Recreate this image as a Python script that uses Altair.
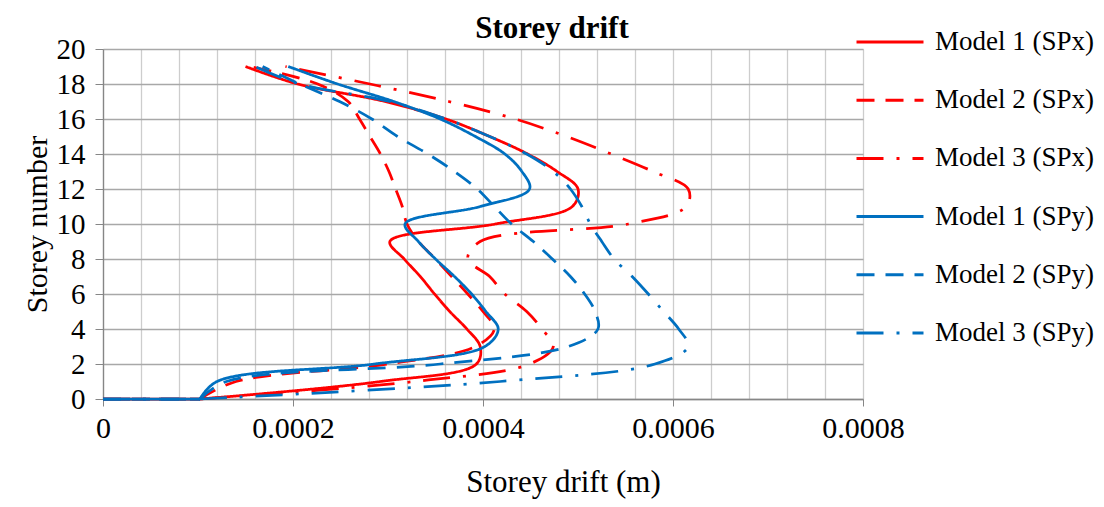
import altair as alt
import pandas as pd

# storey levels (first point is the origin)
storeys = [0, 0, 1, 2, 3, 4, 5, 6, 7, 8, 9, 10, 11, 12, 13, 14, 15, 16, 17, 18, 19]

series_names = ["Model 1 (SPx)", "Model 2 (SPx)", "Model 3 (SPx)",
                "Model 1 (SPy)", "Model 2 (SPy)", "Model 3 (SPy)"]

m1_spx = [0, 0.000102, 0.000292, 0.000393, 0.000397, 0.000383, 0.000365, 0.000349,
          0.000334, 0.000317, 0.000302, 0.000413, 0.000494, 0.000500, 0.000478,
          0.000447, 0.000407, 0.000361, 0.000297, 0.000205, 0.000150]
m2_spx = [0, 0.000102, 0.000140, 0.000300, 0.000392, 0.000412, 0.000400, 0.000384,
          0.000367, 0.000350, 0.000332, 0.000320, 0.000315, 0.000308, 0.000301,
          0.000292, 0.000281, 0.000270, 0.000258, 0.000226, 0.000155]
m3_spx = [0, 0.000102, 0.000328, 0.000449, 0.000474, 0.000462, 0.000446, 0.000423,
          0.000407, 0.000384, 0.000397, 0.000553, 0.000614, 0.000616, 0.000579,
          0.000535, 0.000488, 0.000434, 0.000364, 0.000281, 0.000192]
m1_spy = [0, 0.000102, 0.000120, 0.000286, 0.000402, 0.000416, 0.000403, 0.000388,
          0.000370, 0.000350, 0.000332, 0.000318, 0.000397, 0.000449, 0.000441,
          0.000423, 0.000392, 0.000355, 0.000306, 0.000247, 0.000195]
m2_spy = [0, 0.000102, 0.000130, 0.000355, 0.000490, 0.000521, 0.000518, 0.000507,
          0.000492, 0.000473, 0.000453, 0.000430, 0.000412, 0.000394, 0.000370,
          0.000342, 0.000310, 0.000283, 0.000249, 0.000207, 0.000168]
m3_spy = [0, 0.000102, 0.000418, 0.000581, 0.000616, 0.000606, 0.000590, 0.000574,
          0.000557, 0.000538, 0.000525, 0.000513, 0.000504, 0.000492, 0.000474,
          0.000446, 0.000407, 0.000361, 0.000302, 0.000207, 0.000160]

x_ticks = [round(i * 0.00004, 5) for i in range(21)]
y_ticks = list(range(0, 21, 2))

colors = ["#FF0000", "#FF0000", "#FF0000", "#0070C0", "#0070C0", "#0070C0"]
dashes = [[1, 0], [18, 11], [27, 13, 3, 13], [1, 0], [18, 11], [27, 13, 3, 13]]

rows = []
for name, vals in zip(series_names, [m1_spx, m2_spx, m3_spx, m1_spy, m2_spy, m3_spy]):
    for i, (s, v) in enumerate(zip(storeys, vals)):
        rows.append({"series": name, "storey": s, "drift": v, "idx": i})
df = pd.DataFrame(rows)

FONT = "Liberation Serif"
major = "round(datum.value*25000) % 5 == 0"

x_axis = alt.Axis(
    values=x_ticks,
    labelExpr=f"({major}) ? (datum.value == 0 ? '0' : format(datum.value, '.4f')) : ''",
    title="Storey drift (m)",
    titleFont=FONT, titleFontSize=31, titleFontWeight="normal", titleColor="black",
    titleX=460, titleY=92, titleBaseline="alphabetic", titleAnchor="middle",
    labelFont=FONT, labelFontSize=30, labelColor="black", labelPadding=7,
    labelFlush=False, labelOverlap=False,
    tickSize=7, tickColor="#868686",
    tickOpacity={"condition": {"test": major, "value": 1}, "value": 0},
    grid=True, gridColor="#cdcdcd", gridWidth=1.3,
    domainColor="#868686", domainWidth=1.3,
)
y_axis = alt.Axis(
    values=y_ticks,
    title="Storey number",
    titleFont=FONT, titleFontSize=30, titleFontWeight="normal", titleColor="black",
    titlePadding=4,
    labelFont=FONT, labelFontSize=29, labelColor="black", labelPadding=10,
    tickSize=8, tickColor="#868686",
    grid=True, gridColor="#a8a8a8", gridWidth=1.3,
    domainColor="#868686", domainWidth=1.3,
)

legend = alt.Legend(
    title=None, orient="none", legendX=752, legendY=-42, direction="vertical",
    symbolType="stroke", symbolSize=4489, symbolStrokeWidth=3,
    labelFont=FONT, labelFontSize=27, labelColor="black", labelOffset=10,
    labelLimit=400, rowPadding=10.2, padding=0,
)

enc = dict(
    x=alt.X("drift:Q", scale=alt.Scale(domain=[0, 0.0008], nice=False), axis=x_axis),
    y=alt.Y("storey:Q", scale=alt.Scale(domain=[0, 20], nice=False), axis=y_axis),
    color=alt.Color("series:N", scale=alt.Scale(domain=series_names, range=colors),
                    legend=legend, sort=series_names),
    strokeDash=alt.StrokeDash("series:N", scale=alt.Scale(domain=series_names, range=dashes),
                              legend=legend, sort=series_names),
    order=alt.Order("idx:Q"),
)

curve = alt.Chart(df).mark_line(interpolate="catmull-rom", strokeWidth=2.75).encode(**enc)
basepart = alt.Chart(df).mark_line(strokeWidth=2.75).encode(**enc)


def pick(chart, names, first_segment):
    c = chart.transform_filter(alt.FieldOneOfPredicate(field="series", oneOf=names))
    if first_segment:
        return c.transform_filter(alt.datum.idx <= 1)
    return c.transform_filter(alt.datum.idx >= 1)


# light outer frame of the chart area (decoration, not data)
frame = alt.Chart(pd.DataFrame({"f": [0]})).mark_rect(
    fill="transparent", stroke="#d4d4d4", strokeWidth=1.2
).encode(x=alt.value(-102), x2=alt.value(999), y=alt.value(-48), y2=alt.value(456))

layers = [
    frame,
    pick(basepart, series_names[:3], True),
    pick(curve, series_names[:3], False),
    pick(basepart, series_names[3:], True),
    pick(curve, series_names[3:], False),
]

chart = alt.layer(*layers).properties(
    width=760, height=350,
    autosize=alt.AutoSizeParams(type="none"),
    padding={"left": 95, "top": 41, "right": 233, "bottom": 100},
    title=alt.TitleParams("Storey drift", font=FONT, fontSize=31, fontWeight="bold",
                          color="black", anchor="middle", dx=69, dy=74, offset=5,
                          baseline="alphabetic"),
).configure_view(stroke="transparent").configure(background="white")

chart.save("out.html", embed_options={"renderer": "svg", "actions": False})
